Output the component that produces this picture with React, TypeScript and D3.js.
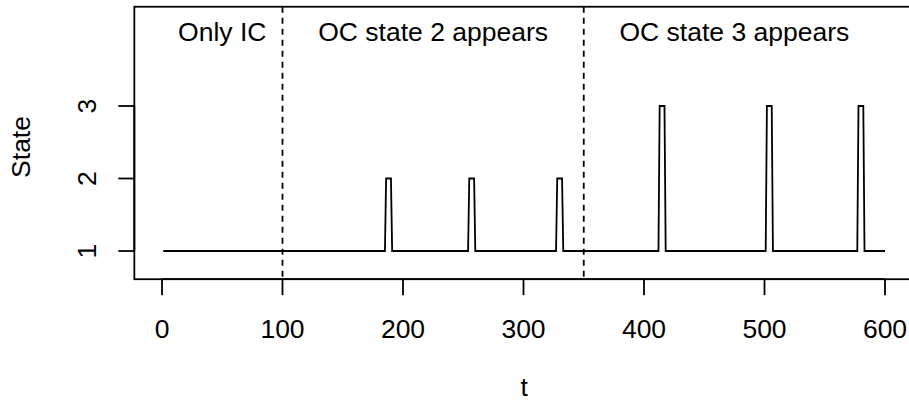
import React from 'react';
import * as d3 from 'd3';

// state sequence: baseline state 1, with short out-of-control episodes
const tFirst = 1;
const tLast = 600;
const baseState = 1;
const spikeStart = [186, 255, 328, 413, 502, 578];
const spikeEnd = [190, 259, 332, 417, 506, 582];
const spikeState = [2, 2, 2, 3, 3, 3];

const changePoints = [100, 350];
const regionLabels = ['Only IC', 'OC state 2 appears', 'OC state 3 appears'];
const regionCenters = [50, 225, 475];
const regionLabelY = 3.9;

const xTicks = [0, 100, 200, 300, 400, 500, 600];
const yTicks = [1, 2, 3];
const yLimits = [0.75, 4.23];

const W = 909;
const H = 403;
const FONT = 'Liberation Sans, Arial, Helvetica, sans-serif';
const FS = 26.5;
const LW = 1.8;

const App = () => {
  const x = d3.scaleLinear().domain([0, 600]).range([162, 885]);
  const y = d3.scaleLinear().domain([1, 3]).range([251, 106]);

  // R-style 4% padding of the plot region
  const xPad = (tLast - tFirst) * 0.04;
  const yPad = (yLimits[1] - yLimits[0]) * 0.04;
  const left = x(tFirst - xPad);
  const right = x(tLast + xPad);
  const top = y(yLimits[1] + yPad);
  const bottom = y(yLimits[0] - yPad);

  const pts: [number, number][] = [[tFirst, baseState]];
  spikeStart.forEach((s, i) => {
    pts.push([s - 1, baseState], [s, spikeState[i]], [spikeEnd[i], spikeState[i]], [spikeEnd[i] + 1, baseState]);
  });
  pts.push([tLast, baseState]);

  const line = d3.line<[number, number]>()
    .x(d => x(d[0]))
    .y(d => y(d[1]));

  const tickLen = 16;

  return (
    <svg width={W} height={H} style={{ position: 'absolute', left: 0, top: 0, background: '#fff' }}
      fontFamily={FONT} fontSize={FS}>
      <path d={line(pts) || ''} fill="none" stroke="#000" strokeWidth={LW} strokeLinejoin="miter" />

      {changePoints.map(c => (
        <line key={c} x1={x(c)} x2={x(c)} y1={top} y2={bottom} stroke="#000" strokeWidth={LW}
          strokeDasharray="6,5" />
      ))}

      {regionLabels.map((lab, i) => (
        <text key={lab} x={x(regionCenters[i])} y={y(regionLabelY)} textAnchor="middle">{lab}</text>
      ))}

      <rect x={left} y={top} width={right - left} height={bottom - top} fill="none" stroke="#000" strokeWidth={LW} />

      {/* x axis */}
      <line x1={x(xTicks[0])} x2={x(xTicks[xTicks.length - 1])} y1={bottom} y2={bottom} stroke="#000" strokeWidth={LW} />
      {xTicks.map(t => (
        <g key={t}>
          <line x1={x(t)} x2={x(t)} y1={bottom} y2={bottom + tickLen} stroke="#000" strokeWidth={LW} />
          <text x={x(t)} y={338} textAnchor="middle">{t}</text>
        </g>
      ))}
      <text x={(left + right) / 2} y={396} textAnchor="middle">t</text>

      {/* y axis */}
      <line x1={left} x2={left} y1={y(yTicks[0])} y2={y(yTicks[yTicks.length - 1])} stroke="#000" strokeWidth={LW} />
      {yTicks.map(v => (
        <g key={v}>
          <line x1={left} x2={left - tickLen} y1={y(v)} y2={y(v)} stroke="#000" strokeWidth={LW} />
          <text transform={`translate(96,${y(v)}) rotate(-90)`} textAnchor="middle">{v}</text>
        </g>
      ))}
      <text transform={`translate(30,${(top + bottom) / 2 + 4}) rotate(-90)`} textAnchor="middle">State</text>
    </svg>
  );
};

export default App;
